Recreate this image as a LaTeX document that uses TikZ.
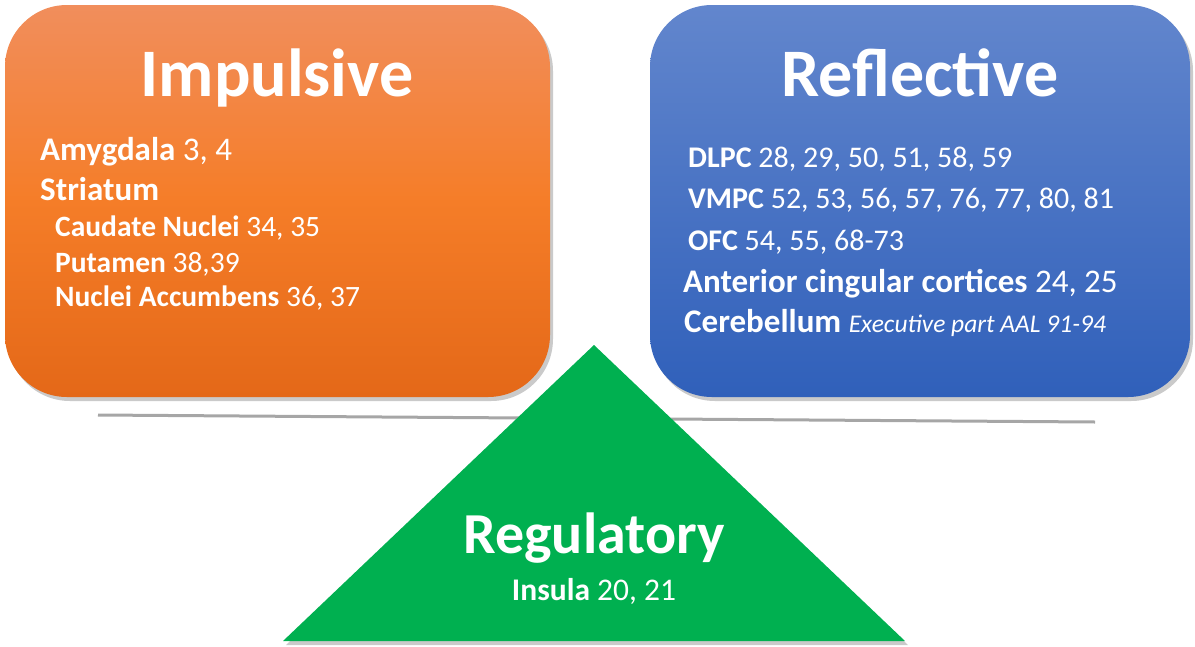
\documentclass[tikz,border=0pt]{standalone}
\usepackage{fontspec}
\setmainfont{Carlito}
\usetikzlibrary{calc, positioning, shadows}

\definecolor{impTop}{RGB}{241,142,92}
\definecolor{impMid}{RGB}{245,125,40}
\definecolor{impBot}{RGB}{228,104,24}
\definecolor{refTop}{RGB}{98,134,205}
\definecolor{refBot}{RGB}{48,96,186}
\definecolor{regGreen}{RGB}{0,176,80}
\definecolor{divGray}{RGB}{166,166,166}

\begin{document}
\begin{tikzpicture}[x=1pt, y=-1pt,
    boxshadow/.style={drop shadow={shadow xshift=3pt, shadow yshift=-4pt, opacity=0.35, fill=black!60}},
    title/.style={anchor=base, inner sep=0pt, text=white, font=\fontsize{68}{70}\selectfont\bfseries},
    area/.style={anchor=base west, inner sep=0pt, text=white, font=\fontsize{33}{35}\selectfont},
    subarea/.style={anchor=base west, inner sep=0pt, text=white, font=\fontsize{29.5}{31}\selectfont},
    cortex/.style={anchor=base west, inner sep=0pt, text=white, font=\fontsize{30}{32}\selectfont}]
    \useasboundingbox (0,0) rectangle (1195,646);
    \coordinate (impulsivepos) at (277.5,201);
    \coordinate (reflectivepos) at (920,201);

%\draw[thin, red] (0,0) rectangle (1195,646);

% divider line, behind the triangle
\coordinate (divleft) at (98,415);
\coordinate (divright) at (1095,422);
\draw[line width=3pt, divGray] (divleft) -- (divright);

% the two boxes
\node[minimum width=545pt, minimum height=392pt, rounded corners=62pt,
      top color=impTop, bottom color=impBot, middle color=impMid, boxshadow] (impulsive) at (impulsivepos) {};
\node[minimum width=540pt, minimum height=392pt, rounded corners=62pt,
      top color=refTop, bottom color=refBot, boxshadow] (reflective) at (reflectivepos) {};

% triangle
\coordinate (apex) at (594,345);
\coordinate (baseL) at (283,641);
\coordinate (baseR) at (905,641);
\fill[regGreen, boxshadow] (apex) -- (baseR) -- (baseL) -- cycle;

\node[title] (imptitle) at (277,96) {Impulsive};
\node[title] (reftitle) at (920,96) {Reflective};
\node[title, font=\fontsize{58}{60}\selectfont\bfseries] (regtitle) at (594,553) {Regulatory};

\begin{scope}
    \node[area] (amyg) at (40,160) {\textbf{Amygdala} 3, 4};
    \node[area] (stria) at (40,200) {\textbf{Striatum}};
    \node[subarea] (caud) at (55,236) {\textbf{Caudate Nuclei} 34, 35};
    \node[subarea] (puta) at (55,272) {\textbf{Putamen} 38,39};
    \node[subarea] (accu) at (55,306) {\textbf{Nuclei Accumbens} 36, 37};
\end{scope}

\begin{scope}
    \node[cortex] (dlpc) at (688,167) {\textbf{DLPC} 28, 29, 50, 51, 58, 59};
    \node[cortex] (vmpc) at (688,208) {\textbf{VMPC} 52, 53, 56, 57, 76, 77, 80, 81};
    \node[cortex] (ofc) at (688,250) {\textbf{OFC} 54, 55, 68-73};
    \node[area] (acc) at (683,292) {\textbf{Anterior cingular cortices} 24, 25};
    \node[area] (cereb) at (684,332) {\textbf{Cerebellum} {\fontsize{25.5}{27}\selectfont\itshape Executive part AAL 91-94}};
\end{scope}

\node[subarea, anchor=base, font=\fontsize{31.5}{33}\selectfont] (insula) at (594,600) {\textbf{Insula} 20, 21};

\end{tikzpicture}
\end{document}
